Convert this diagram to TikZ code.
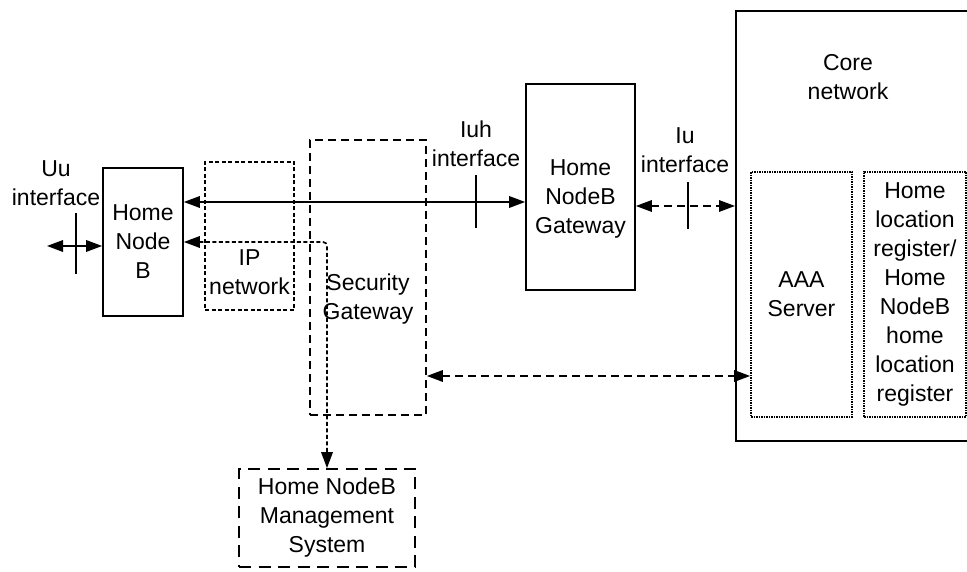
\documentclass[tikz,border=0pt]{standalone}
\usepackage{fontspec}
\setmainfont{Liberation Sans}
\usetikzlibrary{arrows.meta}
\tikzset{
	box/.style={draw, line width=1.7pt, inner sep=0pt, align=center},
	lbl/.style={align=center, inner sep=0pt},
	tip/.style={{Triangle[length=16pt,width=11.5pt]}-{Triangle[length=16pt,width=11.5pt]}},
	finedash/.style={dash pattern=on 4pt off 2.5pt},
	middash/.style={dash pattern=on 8pt off 5pt},
	longdash/.style={dash pattern=on 12pt off 7.5pt},
	finedot/.style={dash pattern=on 1.5pt off 1pt}
}
\begin{document}
\begin{tikzpicture}[x=1pt, y=1pt, line width=1.7pt, font=\fontsize{23}{29}\selectfont]
			%%%%% START %%%%%
			\useasboundingbox (0, 0) rectangle (967, 572);
			\clip (0, 0) rectangle (967, 572);
			
			\node[box, minimum width=300, minimum height=430, anchor=north west] (core) at (735, 562) {};
			\node[lbl] (coretext) at (848, 495) {Core\\network};
			\node[box, finedot, minimum width=101, minimum height=245] (aaa) at (801.5, 277.5) {AAA\\Server};
			\node[box, finedot, minimum width=102, minimum height=245] (hlr) at (915, 277.5) {Home\\location\\register/\\Home\\NodeB\\home\\location\\register};
			
			\node[box, minimum width=80, minimum height=148] (hnb) at (143, 330) {Home\\Node\\B};
			\node[box, finedash, minimum width=89, minimum height=148] (ipnet) at (249.5, 336) {};
			\node[lbl] (iptext) at (249.5, 300) {IP\\network};
			\node[box, middash, minimum width=116, minimum height=275] (sgw) at (368, 294.5) {};
			\node[lbl] (sgwtext) at (368, 273) {Security\\Gateway};
			\node[box, longdash, minimum width=176, minimum height=98] (hms) at (327, 54) {Home NodeB\\Management\\System};
			\node[box, minimum width=109, minimum height=206] (hgw) at (580.5, 385) {};
			\node[lbl] (hgwtext) at (580.5, 373) {Home\\NodeB\\Gateway};
			
			% interfaces
			\coordinate (uu) at (76, 326);
			\coordinate (uuend) at (47, 326);
			\coordinate (iuh) at (476, 370);
			\coordinate (iu) at (688, 366);
			\coordinate (aaaline) at (600, 196);
			
			\node[lbl] (uutext) at (56, 389) {Uu\\interface};
			\node[lbl] (iuhtext) at (476, 428) {Iuh\\interface};
			\node[lbl] (iutext) at (685, 422) {Iu\\interface};
			
			\draw[tip] (uuend) -- (hnb.west |- uu);
			\draw (uu) +(0, 33) -- +(0, -28);
			
			\draw[tip] (hnb.east |- iuh) -- (hgw.west |- iuh);
			\draw (iuh) +(0, 27) -- +(0, -26);
			
			\draw[tip, middash] (hgw.east |- iu) -- (core.west |- iu);
			\draw (iu) +(0, 24) -- +(0, -23);
			
			\draw[tip, middash] (sgw.east |- aaaline) -- (aaa.west |- aaaline);
			
			\draw[tip, finedash, rounded corners=4pt] (hnb.east) -| (hms.north);
			
			%%%%% END %%%%%
\end{tikzpicture}
\end{document}
